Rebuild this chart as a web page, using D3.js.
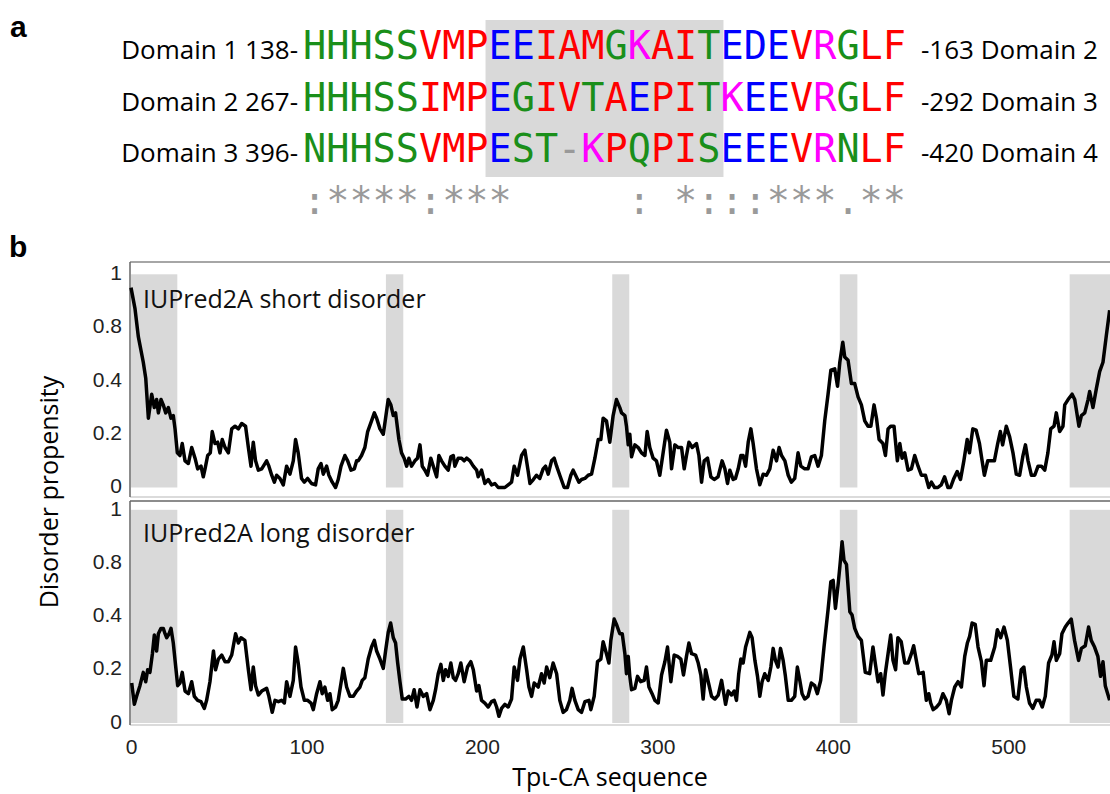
<!DOCTYPE html>
<html>
<head>
<meta charset="utf-8">
<script src="https://cdn.jsdelivr.net/npm/d3@7"></script>
<style>
  body { margin: 0; background: #fff; }
  svg { display: block; }
</style>
</head>
<body>
<svg width="1110" height="794"></svg>
<script>
// ---- panel a: alignment ----
const domainLeft = ['Domain 1 138-', 'Domain 2 267-', 'Domain 3 396-'];
const domainRight = ['-163 Domain 2', '-292 Domain 3', '-420 Domain 4'];
const sequences = [
    'HHHSSVMPEEIAMGKAITEDEVRGLF',
    'HHHSSIMPEGIVTAEPITKEEVRGLF',
    'NHHSSVMPEST-KPQPISEEEVRNLF'
];
const conservation = ':****:***     : *:::***.**';
const highlightCols = [8, 18];

// ---- panel b: disorder profiles ----
const xTicks = [0, 100, 200, 300, 400, 500];
const yTicks = [0, 0.2, 0.4, 0.8, 1];
const domainBands = [[0, 26.4], [145.3, 155.2], [274.3, 284], [404, 414], [535, 558]];
const panelTitles = ['IUPred2A short disorder', 'IUPred2A long disorder'];

const shortDisorder = [[0,.95],[2.3,.87],[4.2,.73],[7,.54],[8.4,.42],[9.9,.26],[11.8,.35],[13.3,.30],[14.6,.33],[15.6,.28],[17.1,.33],[18.4,.31],[19.8,.28],[21.3,.30],[22.8,.26],[24.1,.27],[25.1,.22],[26.4,.13],[27.9,.12],[29.2,.165],[30.8,.10],[32.7,.09],[34.6,.15],[36.5,.11],[38,.07],[39.9,.08],[41.2,.04],[42.2,.07],[43.7,.12],[45.2,.13],[46.3,.21],[47.9,.165],[49.4,.17],[50.7,.13],[52,.18],[53.6,.15],[55.5,.13],[57.4,.22],[59.3,.23],[61.2,.22],[63.1,.24],[65.3,.23],[66.9,.15],[68.4,.08],[69.7,.17],[71,.10],[72.6,.065],[74.5,.07],[77.3,.10],[78.6,.08],[80.2,.046],[81.7,.02],[83,.046],[84.9,.034],[86.8,.01],[88.7,.08],[90.6,.05],[92.5,.10],[93.8,.18],[95.3,.13],[97.2,.034],[98.8,.02],[100.7,.034],[102.9,.015],[105.2,.01],[106.7,.07],[108.3,.09],[109.6,.05],[111.5,.08],[112.8,.046],[114.7,.02],[116.6,0],[118.1,.03],[119.7,.08],[121.9,.12],[123.5,.10],[125.4,.065],[127.3,.07],[128.6,.10],[129.5,.10],[131.4,.12],[133.3,.15],[134.9,.21],[137.1,.25],[138.7,.28],[140,.26],[141.9,.22],[143.8,.20],[145.1,.26],[146.6,.33],[148.1,.31],[149.5,.27],[150.8,.28],[152.7,.18],[154.2,.13],[155.7,.11],[157.1,.08],[158.4,.11],[159.9,.08],[161.8,.10],[163.3,.11],[164.7,.16],[166,.08],[167.5,.065],[169,.046],[170.9,.11],[172.3,.08],[174.2,.04],[175.5,.12],[177,.10],[178.9,.08],[180.8,.065],[182.3,.115],[183.7,.12],[184.6,.08],[186.5,.11],[188.4,.11],[189.9,.10],[191.3,.11],[193.2,.10],[195.1,.08],[197,.065],[197.9,.04],[199.8,.065],[201.7,.015],[203.6,.03],[205.5,.01],[207.4,.015],[209.3,0],[211.2,0],[213.1,0],[215,.01],[216.9,.02],[218.4,.08],[220.3,.046],[222.6,.12],[224.5,.14],[226.4,.06],[227.4,.015],[229.3,.03],[231.1,.046],[233,.034],[234.9,.07],[236.3,.08],[237.8,.05],[239.7,.10],[241.2,.11],[242.6,.08],[244.4,.046],[246.9,0],[248.8,0],[250.7,.046],[252,.065],[253.4,.046],[255.3,.02],[256.8,.03],[258.7,.034],[260.6,.046],[262.5,.05],[264.4,.11],[266.3,.18],[267.8,.18],[269.1,.26],[271,.25],[272.9,.17],[274.8,.27],[276.7,.33],[278.6,.30],[279.6,.28],[281.5,.27],[282.4,.23],[283.4,.16],[284.3,.20],[285.3,.115],[287.2,.16],[289.1,.15],[291,.13],[292.9,.12],[294.2,.21],[295.7,.15],[297.6,.11],[299.5,.10],[301.4,.046],[303.3,.13],[305.2,.215],[307.1,.17],[308.1,.07],[310,.16],[311.9,.15],[313.8,.15],[315.3,.07],[316.6,.12],[318,.17],[319.9,.15],[322.3,.165],[323.7,.12],[325.2,.02],[326.7,.10],[328.6,.11],[330.5,.04],[332.4,.03],[334.6,.04],[336.9,.10],[338.5,.07],[340,.015],[341.3,.065],[343.2,.03],[344.5,.034],[346.1,.07],[347.6,.12],[348.9,.12],[350.3,.08],[351.8,.17],[353.3,.22],[354.6,.165],[356.5,.07],[358.4,.01],[360.3,.05],[362.2,.046],[364.1,.07],[366,.14],[367.9,.10],[369.4,.15],[370.8,.12],[372.7,.10],[374.6,.046],[376.4,.02],[378.3,.034],[380.2,.13],[381.8,.08],[384,.07],[385.9,.07],[387.8,.115],[389.7,.12],[391.6,.08],[393.5,.12],[395.4,.25],[397.3,.35],[398.9,.48],[401.1,.49],[402.7,.38],[404,.54],[405.7,.69],[406.8,.58],[408.7,.555],[410.6,.39],[412.5,.39],[414.4,.34],[416.3,.31],[418.2,.25],[420.1,.23],[421.7,.23],[423.5,.31],[424.9,.26],[426.4,.18],[428.6,.165],[430,.12],[431.5,.22],[433,.23],[434.9,.23],[436.8,.10],[438.2,.165],[439.5,.11],[441,.13],[442.9,.065],[444.8,.07],[446.7,.12],[448.6,.08],[450.5,.046],[452.8,.046],[454.7,0],[456.2,.02],[458,0],[459.9,0],[461.8,.01],[463.7,.04],[465.6,0],[467.1,0],[469,.034],[470.9,.06],[472.8,.03],[474.7,.10],[476.6,.18],[477.9,.13],[479.8,.22],[481.7,.215],[483.6,.165],[485.1,.10],[486.4,.046],[488.3,.10],[490.2,.10],[492.1,.10],[494,.165],[495.5,.21],[496.8,.16],[498.9,.23],[500.8,.19],[502.7,.13],[504.6,.05],[506.5,.046],[508.4,.12],[509.8,.16],[511.3,.10],[513.2,.046],[515.1,.046],[517,.08],[518.9,.08],[520.8,.065],[522.6,.13],[524.2,.22],[526.1,.23],[527.4,.28],[529.3,.21],[531.2,.23],[532.2,.31],[534.1,.33],[536.4,.35],[537.9,.33],[540.3,.23],[541.7,.27],[543.6,.28],[545.5,.33],[546.4,.36],[548.3,.30],[550.2,.37],[552.1,.47],[554,.54],[555.9,.74],[557.8,.865]];

const longDisorder = [[0.4,.15],[1.9,.07],[3.2,.10],[5.1,.14],[7,.19],[8.4,.155],[9.5,.20],[10.8,.19],[12.2,.26],[13.3,.33],[14.6,.27],[15.6,.335],[17.1,.355],[18.4,.355],[19.4,.335],[20.3,.32],[21.7,.335],[22.8,.355],[24.1,.30],[25.5,.21],[26.6,.14],[27.9,.15],[29.2,.19],[30.8,.12],[32.7,.11],[34.6,.155],[36.1,.10],[38,.085],[39.9,.08],[41.8,.055],[43.1,.085],[45,.155],[47,.27],[48.2,.20],[49.8,.24],[51.7,.255],[53.6,.23],[55.5,.23],[57.4,.255],[59.6,.335],[61.2,.30],[62.7,.32],[64.9,.31],[66.9,.20],[68.4,.125],[69.7,.21],[71,.14],[72.6,.105],[74.5,.12],[77.3,.13],[78.6,.10],[80.5,.04],[82.1,.085],[84,.08],[85.8,.085],[87.4,.075],[88.7,.155],[90.6,.10],[92.5,.16],[93.8,.285],[95.3,.225],[96.9,.135],[98.8,.085],[100.7,.085],[102.6,.075],[103.9,.05],[105.8,.11],[107.7,.155],[109,.11],[110.5,.135],[112.1,.085],[113.4,.11],[114.7,.05],[116.6,.06],[118.1,.085],[119.7,.15],[121,.205],[122.9,.135],[124.8,.10],[126.7,.10],[128.6,.12],[130.5,.135],[131.8,.16],[133.3,.17],[135.2,.24],[137.1,.285],[138.7,.31],[140,.27],[141.9,.24],[143.8,.205],[145.1,.27],[146.6,.34],[148,.375],[149.5,.32],[150.8,.30],[152,.225],[153.3,.155],[154.6,.09],[156.5,.09],[158.4,.10],[159.9,.085],[161.4,.125],[163,.06],[164.7,.125],[166.6,.10],[168.5,.11],[170.4,.05],[172.3,.085],[173.6,.125],[175.1,.185],[176.6,.22],[178,.16],[179.3,.20],[180.8,.175],[182.3,.225],[183.7,.17],[185,.16],[186.5,.185],[188,.225],[189.9,.155],[191.8,.21],[193.7,.23],[195.1,.20],[197,.12],[198.3,.14],[199.8,.085],[201.7,.075],[203.6,.06],[205.5,.08],[207,.085],[208.4,.06],[209.7,.025],[211.2,.055],[213.1,.07],[215,.06],[216.9,.09],[218.4,.21],[220.3,.16],[221.7,.24],[223.6,.285],[225.5,.20],[226.8,.135],[228.3,.10],[229.8,.15],[232.1,.135],[234,.185],[235.5,.15],[236.9,.21],[238.7,.17],[240.6,.225],[242.6,.185],[244.4,.085],[246.3,.04],[248.2,.05],[250.1,.085],[251.4,.13],[253,.085],[254.9,.05],[256.8,.04],[258.7,.08],[261,.085],[262.1,.05],[264,.10],[265.9,.23],[267.8,.24],[269.1,.305],[271,.26],[272.4,.225],[273.5,.31],[275.4,.39],[276.7,.37],[278.6,.335],[280,.335],[281.5,.26],[282.4,.185],[283.4,.25],[284.3,.175],[285.3,.125],[287.2,.13],[288.7,.175],[290.5,.155],[292.5,.16],[293.8,.21],[295.2,.135],[297,.11],[298.6,.085],[300.5,.075],[302.4,.18],[304.3,.23],[305.8,.285],[307.7,.155],[309.6,.255],[311.5,.25],[313.4,.24],[314.9,.18],[316.6,.25],[318,.30],[319.5,.26],[321.8,.255],[323.3,.225],[324.8,.18],[326.1,.09],[327.5,.20],[329,.155],[330.9,.10],[332.8,.09],[334.7,.105],[336.6,.16],[337.5,.125],[338.9,.07],[340.4,.12],[342.3,.105],[343.8,.12],[345.1,.085],[346.4,.185],[347.6,.24],[348.9,.225],[350.3,.285],[351.4,.31],[352.7,.34],[354,.32],[355.6,.235],[357.1,.175],[358.4,.10],[359.7,.155],[361.2,.185],[363.2,.16],[364.7,.21],[366,.28],[367.3,.235],[368.8,.21],[370.2,.28],[371.7,.235],[373,.175],[374.6,.085],[376.4,.085],[378.3,.10],[379.8,.21],[381.2,.16],[382.5,.11],[384,.09],[385.9,.10],[387.8,.15],[389.7,.14],[391.2,.11],[393.1,.16],[395,.285],[397.3,.45],[398.9,.66],[400.2,.67],[401.5,.46],[403,.635],[404,.77],[405.3,.88],[406.4,.81],[407.8,.79],[409.7,.435],[411,.41],[412.5,.355],[414.4,.325],[416.3,.31],[418.5,.19],[421,.185],[422.9,.285],[424.2,.225],[425.8,.155],[427.3,.185],[428.6,.105],[429.9,.185],[431.5,.26],[433,.33],[434.3,.235],[435.8,.20],[437.1,.32],[439,.305],[441,.225],[442.9,.225],[444.8,.26],[446.1,.29],[447.6,.235],[449,.185],[451.5,.19],[453.3,.085],[454.7,.11],[455.8,.075],[457.2,.05],[459.1,.06],[461,.075],[462.8,.11],[464.7,.085],[466.3,.035],[467.6,.085],[469.5,.135],[471.4,.155],[473.3,.135],[475.2,.25],[476.7,.30],[478,.325],[479.4,.375],[481.2,.37],[482.8,.285],[484.7,.23],[486.2,.14],[487.5,.235],[490,.235],[492.3,.285],[493.8,.35],[495.7,.32],[497.6,.36],[499.5,.31],[501.3,.21],[503.2,.10],[505.5,.09],[507.4,.20],[508.9,.21],[510.3,.135],[512.1,.075],[514,.055],[515.9,.085],[517.8,.085],[519.4,.06],[521.1,.10],[523,.225],[524.9,.255],[526.1,.305],[527.4,.235],[529.3,.26],[530.6,.335],[532.5,.36],[534.1,.375],[535.9,.39],[537.8,.31],[540.1,.235],[541.7,.28],[543.9,.29],[545.8,.36],[547.3,.31],[549.2,.285],[551.1,.25],[552.6,.175],[554,.23],[555.3,.14],[557.8,.085]];

const svg = d3.select('svg');
const labelFont = '"Open Sans", "Noto Sans", sans-serif';
const tickFont = '"Liberation Sans", Arial, sans-serif';
const monoFont = '"DejaVu Sans Mono", monospace';

// clustal colour scheme
const aaColor = aa => {
    if ('AVFPMILW'.includes(aa)) return '#ff0000';
    if ('DE'.includes(aa)) return '#0000ff';
    if ('RK'.includes(aa)) return '#ff00ff';
    if ('STYHCNGQ'.includes(aa)) return '#1a8f1a';
    return '#999999';
};

// panel letters
svg.append('text').attr('x', 10).attr('y', 37)
    .style('font', 'bold 30px ' + tickFont).text('a');
svg.append('text').attr('x', 9).attr('y', 257)
    .style('font', 'bold 30px ' + tickFont).text('b');

// ---- alignment ----
const col = d3.scaleLinear().domain([0, 26]).range([303, 906]);
const rowY = d3.scalePoint().domain(d3.range(4)).range([59, 214]);

svg.append('rect')
    .attr('x', col(highlightCols[0]) - 3)
    .attr('y', 20)
    .attr('width', col(highlightCols[1]) - col(highlightCols[0]) + 6)
    .attr('height', 157)
    .attr('fill', '#d9d9d9');

const rows = svg.append('g').selectAll('g')
    .data(sequences)
    .join('g');

rows.append('text')
    .attr('x', 298)
    .attr('y', (d, i) => rowY(i))
    .attr('text-anchor', 'end')
    .style('font', '26px ' + labelFont)
    .text((d, i) => domainLeft[i]);

rows.append('text')
    .attr('x', 921)
    .attr('y', (d, i) => rowY(i))
    .style('font', '26px ' + labelFont)
    .text((d, i) => domainRight[i]);

rows.selectAll('text.aa')
    .data((d, i) => d.split('').map((c, j) => ({c, j, i})))
    .join('text')
    .attr('class', 'aa')
    .attr('x', d => col(d.j + 0.5))
    .attr('y', d => rowY(d.i))
    .attr('text-anchor', 'middle')
    .attr('fill', d => aaColor(d.c))
    .style('font', '38.5px ' + monoFont)
    .text(d => d.c);

svg.append('g').selectAll('text')
    .data(conservation.split('').map((c, j) => ({c, j})).filter(d => d.c !== ' '))
    .join('text')
    .attr('x', d => col(d.j + 0.5))
    .attr('y', rowY(3))
    .attr('text-anchor', 'middle')
    .attr('fill', '#9a9a9a')
    .style('font', '38.5px ' + monoFont)
    .text(d => d.c);

// ---- disorder panels ----
const x = d3.scaleLinear().domain([0, 558]).range([131, 1110]);

const panels = [
    {data: shortDisorder, title: panelTitles[0], y0: 487.5, top: 262, bottom: 497, titleY: 308},
    {data: longDisorder, title: panelTitles[1], y0: 723, top: 501, bottom: 725, titleY: 542}
];

const step = 53.3;

panels.forEach((p, k) => {
    // uneven tick spacing as in the figure: equal gaps between listed ticks
    const y = d3.scaleLinear()
        .domain(yTicks)
        .range(yTicks.map((t, i) => p.y0 - i * step));

    const g = svg.append('g');

    g.selectAll('rect.band')
        .data(domainBands)
        .join('rect')
        .attr('class', 'band')
        .attr('x', d => x(d[0]))
        .attr('width', d => x(d[1]) - x(d[0]))
        .attr('y', y(1))
        .attr('height', y(0) - y(1))
        .attr('fill', '#d9d9d9');

    // frame lines
    g.append('line')
        .attr('x1', 130).attr('x2', 1110)
        .attr('y1', p.top).attr('y2', p.top)
        .attr('stroke', k === 0 ? '#888' : '#666').attr('stroke-width', 1.5);
    g.append('line')
        .attr('x1', 130).attr('x2', 1110)
        .attr('y1', p.bottom).attr('y2', p.bottom)
        .attr('stroke', '#cfcfcf').attr('stroke-width', 1.5);
    g.append('line')
        .attr('x1', 130).attr('x2', 130)
        .attr('y1', p.top).attr('y2', p.bottom)
        .attr('stroke', '#666').attr('stroke-width', 1.5);

    const yAxis = g.append('g')
        .attr('transform', 'translate(130,0)')
        .call(d3.axisLeft(y).tickValues(yTicks).tickSize(0).tickPadding(8)
            .tickFormat(d => String(d)));
    yAxis.select('.domain').remove();
    yAxis.selectAll('text')
        .attr('dy', '0.25em')
        .style('font', '21px ' + tickFont)
        .attr('fill', '#222');

    g.append('path')
        .datum(p.data)
        .attr('fill', 'none')
        .attr('stroke', '#000')
        .attr('stroke-width', 3.5)
        .attr('stroke-linejoin', 'round')
        .attr('d', d3.line().x(d => x(d[0])).y(d => y(d[1])));

    g.append('text')
        .attr('x', 143)
        .attr('y', p.titleY)
        .style('font', '25px ' + labelFont)
        .attr('fill', '#111')
        .text(p.title);

    if (k === 1) {
        const xAxis = g.append('g')
            .attr('transform', 'translate(0,' + p.bottom + ')')
            .call(d3.axisBottom(x).tickValues(xTicks).tickSize(0).tickPadding(14));
        xAxis.select('.domain').remove();
        xAxis.selectAll('text')
            .style('font', '21px ' + tickFont)
            .attr('fill', '#222');
    }
});

svg.append('text')
    .attr('transform', 'translate(58,492) rotate(-90)')
    .attr('text-anchor', 'middle')
    .style('font', '25px ' + labelFont)
    .text('Disorder propensity');

svg.append('text')
    .attr('x', 610)
    .attr('y', 786)
    .attr('text-anchor', 'middle')
    .style('font', '25px ' + labelFont)
    .text('Tpι-CA sequence');
</script>
</body>
</html>
